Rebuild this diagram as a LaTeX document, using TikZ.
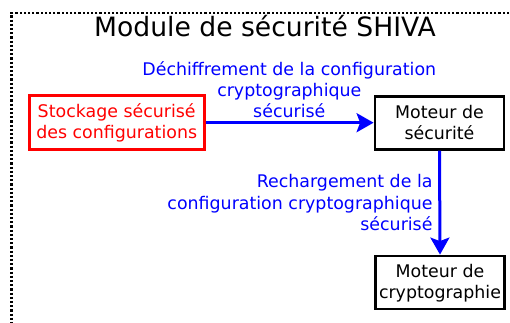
\documentclass[tikz,border=0pt]{standalone}
\usepackage{fontspec}
\setmainfont{DejaVu Sans}
\usetikzlibrary{arrows.meta}
\newcommand\ls{\rule[-2pt]{0pt}{16pt}}
\tikzset{
  txt/.style={font=\fontsize{17.4}{21}\selectfont, align=center, inner sep=0pt},
  boxnode/.style={draw, line width=2.8pt, minimum width=129pt, minimum height=53pt, inner sep=0pt, txt},
  flow/.style={draw=blue, line width=3pt, -{Stealth[length=17pt,width=19pt,inset=3.5pt]}},
  flowlbl/.style={txt, text=blue}
}
\begin{document}
\begin{tikzpicture}[x=1pt,y=-1pt]
\useasboundingbox (0,0) rectangle (510,322);
\clip (0,0) rectangle (510,322);
\draw[line width=2.6pt, dash pattern=on 2.2pt off 2pt] (530,13) -- (11.5,13) -- (11.5,340);
\node[font=\fontsize{26.6}{32}\selectfont, anchor=base, inner sep=0pt] (title) at (265,36.7) {Module de sécurité SHIVA};
\node[boxnode, draw=red, text=red, line width=2.6pt, minimum width=175pt, minimum height=54pt] (stock) at (116.7,122.7) {\ls Stockage sécurisé\\\ls des configurations};
\node[boxnode] (secu) at (439.5,122.7) {\ls Moteur de\\\ls sécurité};
\node[boxnode] (crypto) at (440,282.5) {\ls Moteur de\\\ls cryptographie};
\draw[flow] (stock.east) -- (secu.west);
\draw[flow] (secu.south) -- (crypto.north);
\node[flowlbl] (lbl1) at (289.3,90) {\ls Déchiffrement de la configuration\\\ls cryptographique\\\ls sécurisé};
\node[flowlbl, align=right, anchor=east, font=\fontsize{17.4}{21.7}\selectfont] (lbl2) at (432.7,203) {\ls Rechargement de la\\\ls configuration cryptographique\\\ls sécurisé};
\end{tikzpicture}
\end{document}
